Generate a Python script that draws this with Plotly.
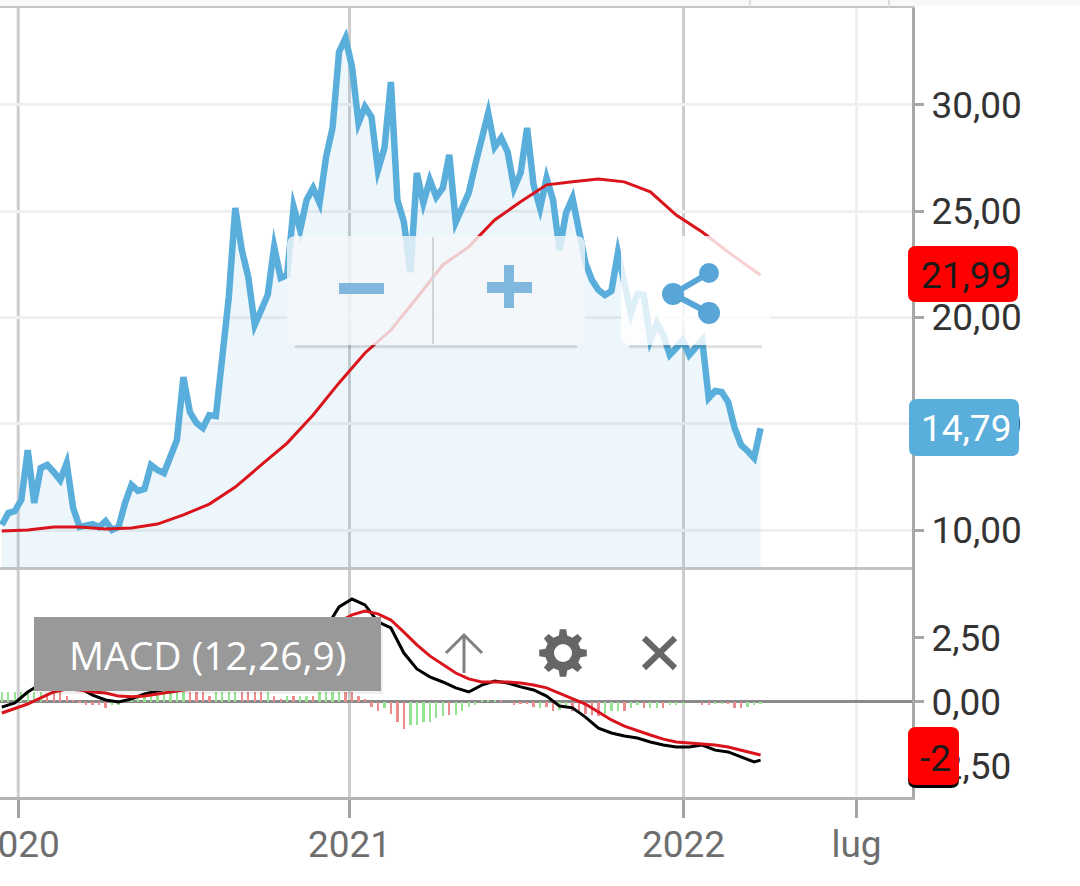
import math
import pandas as pd
import plotly.graph_objects as go
from plotly.subplots import make_subplots

# values
price_values = [
    10.24, 10.80, 10.89, 11.41, 13.76, 11.27, 12.92, 13.06, 12.73, 12.35,
    13.15, 11.04, 10.14, 10.24, 10.28, 10.14, 10.42, 10.00, 10.14, 11.27,
    12.12, 11.84, 11.93, 13.06, 12.82, 12.68, 13.44, 14.24, 17.20, 15.55,
    15.04, 14.80, 15.41, 15.36, 18.14, 20.96, 25.15, 23.18, 21.91, 19.65,
    20.35, 21.06, 23.32, 21.86, 22.00, 25.20, 24.12, 25.53, 26.09, 25.39,
    27.55, 28.92, 32.49, 33.15, 31.79, 29.15, 29.91, 29.44, 26.94, 27.98,
    31.08, 25.53, 24.49, 22.14, 26.80, 25.39, 26.47, 25.67, 26.09, 27.65,
    24.49, 25.15, 25.86, 27.18, 28.49, 29.62, 28.02, 28.45, 27.79, 26.09,
    26.80, 28.92, 26.24, 25.15, 26.56, 25.53, 23.18, 24.92, 25.62, 23.98,
    22.56, 21.76, 21.29, 21.06, 21.25, 23.04, 21.76, 20.21, 21.11, 21.06,
    18.94, 19.74, 19.18, 18.24, 18.56, 18.94, 18.24, 18.61, 18.94, 16.21,
    16.54, 16.49, 16.02, 14.80, 14.00, 13.72, 13.39, 14.79,
]
avg_values = [
    9.95, 10.00, 10.14, 10.14, 10.05, 10.09, 10.28, 10.71, 11.22, 12.02,
    13.06, 14.09, 15.41, 16.92, 18.33, 19.41, 20.92, 22.47, 23.32, 24.59,
    25.44, 26.24, 26.38, 26.52, 26.38, 25.91, 24.82, 24.02, 23.08, 22.24, 21.99,
]
macd_values = [
    -0.20, -0.04, 0.39, 0.70, 0.86, 0.86, 0.55, 0.27, 0.08, 0.00,
    0.12, 0.31, 0.43, 0.55, 0.66, 0.66, 0.55, 0.51, 0.63, 0.74,
    0.70, 0.70, 0.86, 0.94, 1.25, 2.89, 3.71, 4.02, 3.79, 3.13,
    2.89, 1.91, 1.29, 0.98, 0.78, 0.55, 0.39, 0.66, 0.82, 0.74,
    0.59, 0.47, 0.23, -0.16, -0.23, -0.59, -1.02, -1.21, -1.33, -1.41,
    -1.56, -1.68, -1.76, -1.76, -1.68, -1.88, -1.95, -2.15, -2.34, -2.27,
]
signal_values = [
    -0.43, -0.27, -0.08, 0.16, 0.39, 0.51, 0.47, 0.39, 0.35, 0.23,
    0.20, 0.23, 0.31, 0.39, 0.47, 0.51, 0.51, 0.55, 0.55, 0.59,
    0.63, 0.63, 0.66, 0.74, 0.98, 2.42, 3.13, 3.40, 3.55, 3.44,
    3.20, 2.73, 2.23, 1.80, 1.45, 1.13, 0.90, 0.78, 0.78, 0.78,
    0.74, 0.66, 0.55, 0.35, 0.12, -0.08, -0.39, -0.70, -0.94, -1.13,
    -1.29, -1.45, -1.56, -1.60, -1.64, -1.68, -1.76, -1.88, -2.03, -2.07,
]
hist_values = [
    0.39, 0.39, 0.39, 0.39, 0.39, 0.39, 0.39, 0.31, 0.39, 0.39,
    0.23, 0.04, -0.04, -0.12, -0.12, -0.12, -0.23, -0.12, -0.12, 0.08,
    0.16, 0.20, 0.23, 0.23, 0.31, 0.31, 0.35, 0.39, 0.39, 0.39,
    0.39, 0.39, 0.23, 0.39, 0.39, 0.39, 0.39, 0.39, 0.39, 0.39,
    0.39, 0.39, 0.23, 0.12, 0.23, 0.23, 0.23, 0.23, 0.23, 0.39,
    0.39, 0.39, 0.39, 0.39, 0.39, 0.23, 0.12, -0.20, -0.35, -0.23,
    -0.47, -0.78, -1.05, -0.90, -0.90, -0.78, -0.78, -0.63, -0.55, -0.51,
    -0.51, -0.35, -0.20, -0.12, 0.08, 0.08, 0.08, 0.08, 0.00, -0.12,
    -0.08, -0.08, -0.20, -0.23, -0.20, -0.35, -0.31, -0.23, -0.35, -0.39,
    -0.47, -0.51, -0.55, -0.47, -0.35, -0.35, -0.35, -0.23, -0.12, -0.23,
    -0.23, -0.23, -0.23, -0.12, -0.12, -0.12, 0.00, 0.00, -0.12, -0.12,
    -0.08, -0.08, -0.08, -0.23, -0.23, -0.20, -0.12, -0.08,
]
hist_tones = (
    "ggggggg" "rrrrr" "rrrrr" "gggggggggggg" "rrrr" "gggg" "rrrr" "g" "rr" "g" "r" "gg" "r"
    "gggg" "rrrrrr" "g" "rrr" "gggggg" "r" "ggggggg" "rrrrrr" "g" "rr" "gg" "rrrrr" "ggg"
    "r" "gg" "r" "gg" "r" "ggggg" "rr" "gg" "rrr" "ggg"
)

x_ticks = ["2020-01-01", "2020-12-30", "2022-01-01", "2022-07-10"]
x_labels = ["2020", "2021", "2022", "lug"]
price_ticks = [10, 15, 20, 25, 30]
price_labels = ["10,00", "15,00", "20,00", "25,00", "30,00"]
macd_ticks = [-2.5, 0, 2.5]
macd_labels = ["-2,50", "0,00", "2,50"]

dates = list(pd.date_range("2019-12-14", periods=len(price_values), freq="171h"))
avg_dates = dates[::4] + [dates[-1]]
macd_dates = dates[::2] + [dates[-1]]

BLUE = "#5aaedb"
RED = "#d9141c"
W, H = 1080, 886
M_L, M_R, M_T, M_B = 0, 168, 8, 89
PANEL_SPLIT = (797 - 567) / (H - M_T - M_B)


def fx(px):
    return (px - M_L) / (W - M_L - M_R)


def fy(py):
    return 1 - (py - M_T) / (H - M_T - M_B)


def rect_shape(x0, y0, x1, y1, color, r=0):
    # rounded box given in screen pixels
    path = (
        f"M{fx(x0 + r)},{fy(y0)} L{fx(x1 - r)},{fy(y0)} "
        f"Q{fx(x1)},{fy(y0)} {fx(x1)},{fy(y0 + r)} L{fx(x1)},{fy(y1 - r)} "
        f"Q{fx(x1)},{fy(y1)} {fx(x1 - r)},{fy(y1)} L{fx(x0 + r)},{fy(y1)} "
        f"Q{fx(x0)},{fy(y1)} {fx(x0)},{fy(y1 - r)} L{fx(x0)},{fy(y0 + r)} "
        f"Q{fx(x0)},{fy(y0)} {fx(x0 + r)},{fy(y0)} Z"
    )
    return dict(type="path", path=path, xref="paper", yref="paper",
                fillcolor=color, line_width=0, layer="above")


def line_shape(points, color, width):
    path = "M" + " L".join(f"{fx(a)},{fy(b)}" for a, b in points)
    return dict(type="path", path=path, xref="paper", yref="paper",
                line=dict(color=color, width=width), layer="above")


def circle_shape(cx, cy, r, color):
    return dict(type="circle", xref="paper", yref="paper", x0=fx(cx - r), x1=fx(cx + r),
                y0=fy(cy + r), y1=fy(cy - r), fillcolor=color, line_width=0, layer="above")


def gear_shape(cx, cy, r_out, r_in, teeth, color):
    pts = []
    for i in range(teeth):
        a = 2 * math.pi * i / teeth
        step = 2 * math.pi / teeth
        for off, r in ((-0.30, r_in), (-0.17, r_out), (0.17, r_out), (0.30, r_in)):
            t = a + off * step
            pts.append((cx + r * math.cos(t), cy + r * math.sin(t)))
    path = "M" + " L".join(f"{fx(a)},{fy(b)}" for a, b in pts) + " Z"
    return dict(type="path", path=path, xref="paper", yref="paper",
                fillcolor=color, line_width=0, layer="above")


fig = make_subplots(rows=2, cols=1, shared_xaxes=True, vertical_spacing=0,
                    row_heights=[1 - PANEL_SPLIT, PANEL_SPLIT])

fig.add_trace(go.Scatter(x=dates, y=price_values, mode="lines", fill="tozeroy",
                         fillcolor="rgba(90,174,219,0.11)",
                         line=dict(color=BLUE, width=6.5)), row=1, col=1)
fig.add_trace(go.Scatter(x=avg_dates, y=avg_values, mode="lines",
                         line=dict(color=RED, width=3)), row=1, col=1)

tone_map = {"g": "#96e492", "r": "#ea8c8c"}
fig.add_trace(go.Bar(x=dates, y=hist_values, width=2.2e8,
                     marker=dict(color=[tone_map[t] for t in hist_tones], line_width=0)),
              row=2, col=1)
fig.add_trace(go.Scatter(x=macd_dates, y=macd_values, mode="lines",
                         line=dict(color="#000000", width=3)), row=2, col=1)
fig.add_trace(go.Scatter(x=macd_dates, y=signal_values, mode="lines",
                         line=dict(color=RED, width=3)), row=2, col=1)

axis_font = dict(family="Roboto", size=37, color="#333333")
fig.update_xaxes(range=["2019-12-12", "2022-09-09"], tickmode="array", tickvals=x_ticks,
                 ticktext=x_labels, showgrid=False,
                 showline=True, linecolor="#b4b4b4", linewidth=3, zeroline=False)
fig.update_xaxes(ticks="", showticklabels=False, mirror=True, linecolor="#c4c4c4", row=1, col=1)
fig.update_xaxes(ticks="outside", ticklen=18, tickwidth=3, tickcolor="#a4a4a4",
                 showticklabels=True, ticklabeloverflow="allow", ticklabelstandoff=-5,
                 tickfont=dict(family="Roboto", size=37, color="#6e6e6e"), row=2, col=1)
fig.update_yaxes(side="right", showline=True, linecolor="#a8a8a8", linewidth=3, ticks="outside",
                 ticklen=9, tickwidth=3, tickcolor="#a8a8a8", tickfont=axis_font, tickmode="array")
fig.update_yaxes(range=[8.26, 34.56], tickvals=price_ticks, ticktext=price_labels,
                 showgrid=True, gridcolor="#f0f0f0", gridwidth=3, zeroline=False, row=1, col=1)
fig.update_yaxes(range=[-3.71, 5.27], tickvals=macd_ticks, ticktext=macd_labels, showgrid=False,
                 zeroline=True, zerolinecolor="#8a8a8a", zerolinewidth=3, row=2, col=1)

shapes = []
# vertical lines: years dark, lug pale
for d, col in zip(x_ticks, ["#cdcdcd", "#cdcdcd", "#cdcdcd", "#f0f0f0"]):
    shapes.append(dict(type="line", xref="x", yref="paper", x0=d, x1=d, y0=0, y1=1,
                       line=dict(color=col, width=3), layer="below"))
# strip above the chart
shapes.append(rect_shape(0, -8, 1080, 6, "#f8f8f8"))
for px in (750, 889):
    shapes.append(line_shape([(px, 0), (px, 7)], "#dddddd", 2))
# zoom and share panels, the shadow only shows under the bottom edge
for x0, x1, col in ((287, 585, "rgba(244,248,250,0.80)"), (621, 770, "rgba(255,255,255,0.80)")):
    shapes.append(rect_shape(x0, 236, x1, 345, col, 9))
    for grow, alpha in ((3, 0.05), (2, 0.08), (1, 0.12)):
        shapes.append(line_shape([(x0 + 8, 345 + grow), (x1 - 8, 345 + grow)],
                                 f"rgba(0,0,0,{alpha})", 1.5))
shapes.append(line_shape([(433, 237), (433, 344)], "#d4d4d4", 2))
shapes.append(rect_shape(339, 283, 384, 294, "#7fb8dc"))
shapes.append(rect_shape(487, 282, 532, 293, "#7fb8dc"))
shapes.append(rect_shape(504, 265, 514, 308, "#7fb8dc"))
shapes.append(line_shape([(709, 273), (673, 294), (709, 313)], "#58a6d8", 6))
shapes.append(circle_shape(673, 294, 11, "#58a6d8"))
shapes.append(circle_shape(709, 273, 10, "#58a6d8"))
shapes.append(circle_shape(709, 313, 11, "#58a6d8"))
# MACD label and icons
shapes.append(rect_shape(36, 620, 383, 694, "rgba(0,0,0,0.06)"))
shapes.append(rect_shape(34, 617, 381, 691, "#999999"))
shapes.append(line_shape([(446, 653), (464, 635), (482, 653)], "#808080", 3))
shapes.append(line_shape([(464, 635), (464, 673)], "#808080", 3))
shapes.append(gear_shape(563, 653, 24, 18, 8, "#666666"))
shapes.append(circle_shape(563, 653, 17, "#666666"))
shapes.append(circle_shape(563, 653, 9, "#ffffff"))
shapes.append(line_shape([(644, 638), (675, 668)], "#666666", 6))
shapes.append(line_shape([(675, 638), (644, 668)], "#666666", 6))
# value badges
shapes.append(rect_shape(908, 246, 1018, 302, "#ff0000", 8))
shapes.append(rect_shape(909, 399, 1019, 456, BLUE, 8))
shapes.append(rect_shape(908, 731, 959, 788, "#000000", 8))
shapes.append(rect_shape(908, 727, 959, 785, "#ff0000", 8))
fig.update_layout(shapes=shapes)

notes = [
    (966, 275, "21,99", "#1a1a1a", "Roboto", 37),
    (966, 428, "14,79", "#ffffff", "Roboto", 37),
    (935, 758, "-2", "#1a1a1a", "Roboto", 37),
    (207, 654, "MACD (12,26,9)", "#ffffff", "Open Sans", 39),
]
for px, py, text, col, fam, size in notes:
    fig.add_annotation(x=fx(px), y=fy(py), xref="paper", yref="paper", text=text, showarrow=False,
                       xanchor="center", yanchor="middle", font=dict(family=fam, size=size, color=col))

fig.update_layout(width=W, height=H, margin=dict(l=M_L, r=M_R, t=M_T, b=M_B, autoexpand=False),
                  paper_bgcolor="white", plot_bgcolor="rgba(0,0,0,0)", showlegend=False,
                  hovermode=False, bargap=0)

# the page has a default body margin, drop it so the figure fills the window
# sharp corners on the lines like the reference
page_js = """
document.body.style.margin = '0';
document.querySelectorAll('.scatterlayer .js-line').forEach(function (el) {
    el.style.strokeLinejoin = 'miter';
    el.style.strokeMiterlimit = '6';
});
"""
fig.write_html("out.html", config={"displayModeBar": False}, post_script=page_js)
